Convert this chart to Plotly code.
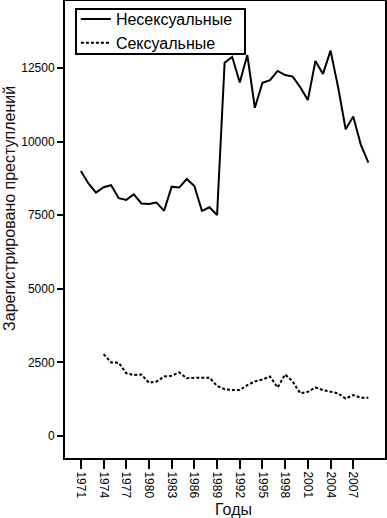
import plotly.graph_objects as go

years_nonsex = list(range(1971, 2010))
nonsexual = [9000, 8580, 8270, 8450, 8520, 8080, 8020, 8210, 7900, 7880,
             7930, 7650, 8470, 8440, 8730, 8490, 7650, 7770, 7510, 12680,
             12880, 12010, 12940, 11150, 12000, 12090, 12400, 12260, 12210, 11850,
             11410, 12740, 12300, 13090, 11850, 10420, 10850, 9900, 9290]

years_sex = list(range(1974, 2010))
sexual = [2780, 2500, 2490, 2130, 2070, 2090, 1810, 1850, 2020, 2050,
          2160, 1960, 1980, 1980, 1980, 1700, 1590, 1560, 1560, 1730,
          1850, 1920, 2020, 1650, 2090, 1850, 1450, 1500, 1650, 1560,
          1500, 1450, 1270, 1390, 1300, 1300]

tick_years = list(range(1971, 2010, 3))
y_ticks = [0, 2500, 5000, 7500, 10000, 12500]

FONT = "Liberation Sans, Arial, sans-serif"

fig = go.Figure()
fig.add_trace(go.Scatter(x=years_nonsex, y=nonsexual, mode="lines", name="Несексуальные",
                         line=dict(color="black", width=2)))
fig.add_trace(go.Scatter(x=years_sex, y=sexual, mode="lines", name="Сексуальные",
                         line=dict(color="black", width=2, dash="3px,2px")))

axis_common = dict(showline=True, linecolor="black", linewidth=2, mirror=True,
                   showgrid=False, zeroline=False, ticks="outside", automargin=False,
                   tickcolor="black", tickwidth=2,
                   tickfont=dict(family=FONT, size=12, color="black"))

fig.update_xaxes(range=[1968.9, 2011.2], tickvals=tick_years,
                 ticktext=[str(y) for y in tick_years], tickangle=90, ticklen=9,
                 **axis_common)
fig.update_yaxes(range=[-747, 14777], tickvals=y_ticks,
                 ticktext=[str(v) for v in y_ticks], ticklen=6, **axis_common)

fig.update_layout(
    width=387, height=518,
    margin=dict(l=65, r=2, t=1, b=60, autoexpand=False),
    plot_bgcolor="white", paper_bgcolor="white",
    font=dict(family=FONT, color="black"),
    showlegend=True,
    legend=dict(x=0.034, y=0.9975, xanchor="left", yanchor="top",
                bgcolor="rgba(0,0,0,0)", borderwidth=0,
                font=dict(family=FONT, size=16, color="black"),
                tracegroupgap=0, itemwidth=30),
    shapes=[dict(type="rect", xref="paper", yref="paper",
                 x0=0.0344, x1=0.5625, y0=0.884, y1=0.9825, layer="above",
                 fillcolor="white", line=dict(color="black", width=2))],
    annotations=[
        dict(text="Годы", xref="paper", yref="paper", x=0.525, y=0, yshift=-51,
             xanchor="center", yanchor="middle", showarrow=False,
             font=dict(family=FONT, size=16, color="#1a0d05")),
        dict(text="Зарегистрировано преступлений", xref="paper", yref="paper",
             x=0, xshift=-55, y=0.545, textangle=-90, xanchor="center", yanchor="middle",
             showarrow=False, font=dict(family=FONT, size=16, color="#1a0d05")),
    ],
)

fig.write_html("out.html", config={"displayModeBar": False},
               post_script="document.body.style.margin='0';document.body.style.overflow='hidden';")
